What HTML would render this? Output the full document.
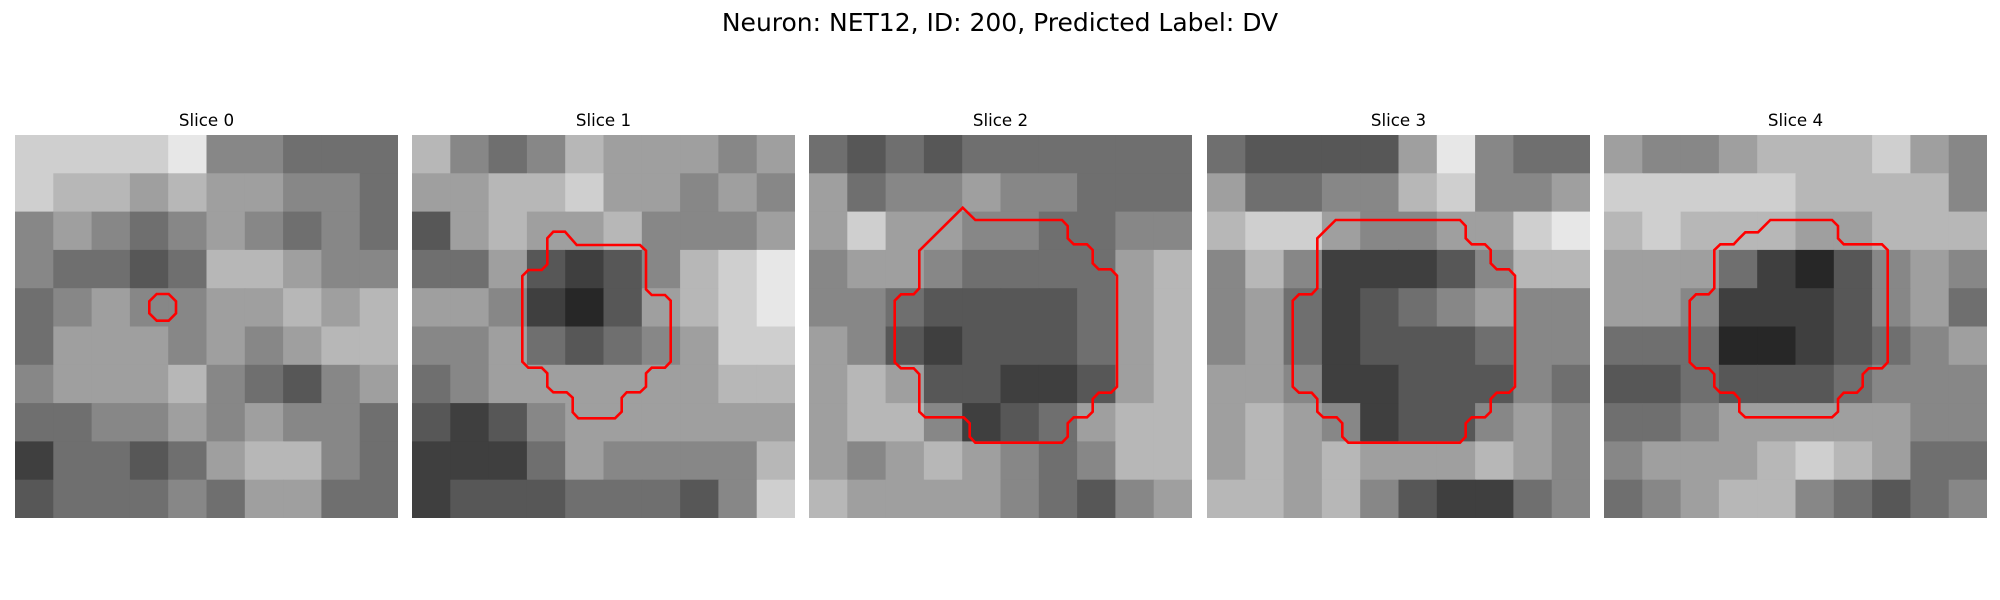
<!DOCTYPE html>
<html><head><meta charset="utf-8"><style>
html,body{margin:0;padding:0;background:#fff;}
svg{display:block;}
text{font-family:"DejaVu Sans","Liberation Sans",sans-serif;fill:#000;}
</style></head><body>
<svg id="fig" width="2000" height="600" viewBox="0 0 2000 600">
<text x="1000" y="31" font-size="25" text-anchor="middle">Neuron: NET12, ID: 200, Predicted Label: DV</text>
</svg>
<script>
const sliceTitles = ["Slice 0","Slice 1","Slice 2","Slice 3","Slice 4"];
const slice0 = [
[8,8,8,8,9,5,5,4,4,4],[8,7,7,6,7,6,6,5,5,4],[5,6,5,4,5,6,5,4,5,4],[5,4,4,3,4,7,7,6,5,5],[4,5,6,5,5,6,6,7,6,7],
[4,6,6,6,5,6,5,6,7,7],[5,6,6,6,7,5,4,3,5,6],[4,4,5,5,6,5,6,5,5,4],[2,4,4,3,4,6,7,7,5,4],[3,4,4,4,5,4,6,6,4,4]];
const slice1 = [
[7,5,4,5,7,6,6,6,5,6],[6,6,7,7,8,6,6,5,6,5],[3,6,7,6,6,7,5,5,5,6],[4,4,6,3,2,3,5,7,8,9],[6,6,5,2,1,3,6,7,8,9],
[5,5,6,4,3,4,5,6,8,8],[4,5,6,6,6,6,6,6,7,7],[3,2,3,5,6,6,6,6,6,6],[2,2,2,4,6,5,5,5,5,7],[2,3,3,3,4,4,4,3,5,8]];
const slice2 = [
[4,3,4,3,4,4,4,4,4,4],[6,4,5,5,6,5,5,4,4,4],[6,8,6,6,5,5,4,4,5,5],[5,6,6,5,4,4,4,4,6,7],[5,5,4,3,3,3,3,4,6,7],
[6,5,3,2,3,3,3,4,6,7],[6,7,6,3,3,2,2,3,6,7],[6,7,7,5,2,3,4,6,7,7],[6,5,6,7,6,5,4,5,7,7],[7,6,6,6,6,5,4,3,5,6]];
const slice3 = [
[4,3,3,3,3,6,9,5,4,4],[6,4,4,5,5,7,8,5,5,6],[7,8,8,6,5,5,6,6,8,9],[5,7,5,2,2,2,3,5,7,7],[5,6,4,2,3,4,5,6,5,5],
[5,6,4,2,3,3,3,4,5,5],[6,6,5,2,2,3,3,3,5,4],[6,7,6,5,2,3,3,5,6,5],[6,7,6,7,6,6,6,7,6,5],[7,7,6,7,5,3,2,2,4,5]];
const slice4 = [
[6,5,5,6,7,7,7,8,6,5],[8,8,8,8,8,7,7,7,7,5],[7,8,7,7,7,6,6,7,7,7],[6,6,6,4,2,1,3,5,6,5],[6,6,5,2,2,2,3,5,6,4],
[4,4,4,1,1,2,3,4,5,6],[3,3,4,3,3,3,4,5,5,5],[4,4,5,6,6,6,6,6,5,5],[5,6,6,6,7,8,7,6,4,4],[4,5,6,7,7,5,4,3,4,5]];
const slices = [slice0,slice1,slice2,slice3,slice4];
const contourOrigins = [[0,100],[410,130],[807,130],[1205,130],[1602,130]];
const contours = [
[[448,604],[470,582],[506,582],[528,604],[528,640],[506,662],[470,662],[448,640]],
[[430,305],[465,305],[500,345],[690,345],[708,362],[708,478],[725,495],[765,495],[782,512],[782,695],[765,713],[725,713],[708,730],[708,770],[690,787],[650,787],[635,803],[635,845],[615,865],[505,865],[488,847],[488,803],[470,787],[430,787],[412,770],[412,730],[395,713],[355,713],[337,695],[337,438],[355,420],[395,420],[412,403],[412,325]],
[[467,233],[505,270],[765,270],[782,288],[782,325],[800,343],[840,343],[857,360],[857,400],[875,418],[912,418],[930,437],[930,770],[912,788],[875,788],[857,807],[857,845],[840,862],[800,862],[782,880],[782,920],[765,938],[505,938],[488,920],[488,880],[470,862],[355,862],[337,845],[337,733],[320,715],[282,715],[263,697],[263,512],[282,493],[320,493],[337,475],[337,362]],
[[392,270],[765,270],[782,288],[782,325],[800,343],[840,343],[857,360],[857,400],[875,418],[912,418],[930,437],[930,770],[912,788],[875,788],[857,807],[857,845],[840,862],[800,862],[782,880],[782,920],[765,938],[430,938],[412,920],[412,880],[395,862],[355,862],[337,845],[337,807],[320,788],[282,788],[263,770],[263,512],[282,493],[320,493],[337,475],[337,325]],
[[505,270],[690,270],[708,288],[708,325],[725,343],[840,343],[857,360],[857,697],[840,715],[800,715],[782,733],[782,770],[765,788],[725,788],[708,807],[708,845],[690,862],[430,862],[412,845],[412,807],[395,788],[355,788],[337,770],[337,733],[320,715],[282,715],[263,697],[263,512],[282,493],[320,493],[337,475],[337,360],[355,343],[395,343],[412,325],[430,307],[468,307]]
];
const NS="http://www.w3.org/2000/svg";
const svg=document.getElementById('fig');
const panelX=[15,412,809,1207,1604], panelY=135, panelS=383;
function gray(v){const g=Math.round(15+v*24);return `rgb(${g},${g},${g})`;}
slices.forEach((grid,p)=>{
  const g=document.createElementNS(NS,'g');
  
  
  const t=document.createElementNS(NS,'text');
  
  
  t.setAttribute('x',panelX[p]+panelS/2);t.setAttribute('y',126);
  t.setAttribute('font-size','16.7');t.setAttribute('text-anchor','middle');
  t.textContent=sliceTitles[p];g.appendChild(t);
  const n=grid.length, cs=panelS/n;
  grid.forEach((row,r)=>row.forEach((v,c)=>{
    const rc=document.createElementNS(NS,'rect');
    
    
    rc.setAttribute('x',(panelX[p]+c*cs).toFixed(2));rc.setAttribute('y',(panelY+r*cs).toFixed(2));
    rc.setAttribute('width',(cs+(c<n-1?0.6:0)).toFixed(2));rc.setAttribute('height',(cs+(r<n-1?0.6:0)).toFixed(2));
    rc.setAttribute('fill',gray(v));g.appendChild(rc);
  }));
  const o=contourOrigins[p];
  const pl=document.createElementNS(NS,'polygon');
  
  
  pl.setAttribute('points',contours[p].map(q=>(o[0]+q[0]/3).toFixed(1)+','+(o[1]+q[1]/3).toFixed(1)).join(' '));
  pl.setAttribute('fill','none');pl.setAttribute('stroke','#ff0000');pl.setAttribute('stroke-width','2.6');
  g.appendChild(pl);
  svg.appendChild(g);
});
</script>
</body></html>
